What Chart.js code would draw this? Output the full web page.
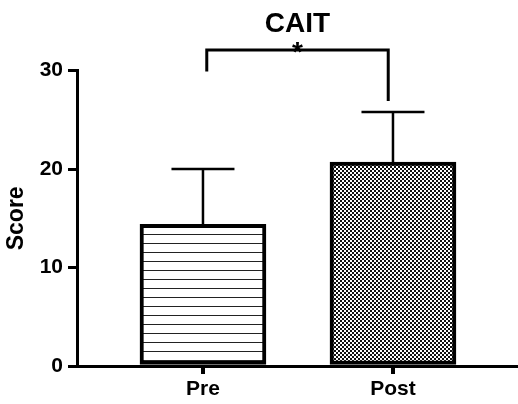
<!DOCTYPE html>
<html>
<head>
<meta charset="utf-8">
<script src="https://cdn.jsdelivr.net/npm/chart.js@4"></script>
<style>
  html, body { margin: 0; padding: 0; background: #fff; }
  #wrap { width: 518px; height: 404px; }
</style>
</head>
<body>
<div id="wrap"><canvas id="c" width="518" height="404"></canvas></div>
<script>
// ---- data ----
const categories = ['Pre', 'Post'];
const positions = [0, 1];
const means = [14.4, 20.7];
const sds = [5.6, 5.1];
const yTicks = [0, 10, 20, 30];
const chartTitle = 'CAIT';
const yTitle = 'Score';
const sigLabel = '*';
const bracketX = [0.02, 0.975];
const bracketY = [29.9, 32.1, 26.9]; // left leg bottom, top, right leg bottom

const FONT = '"Liberation Sans", Arial, Helvetica, sans-serif';

// ---- patterns ----
function linePattern() {
  const c = document.createElement('canvas');
  c.width = 9; c.height = 9;
  const x = c.getContext('2d');
  x.fillStyle = '#fff'; x.fillRect(0, 0, 9, 9);
  x.fillStyle = '#222'; x.fillRect(0, 0, 9, 1);
  return x.createPattern(c, 'repeat');
}
function checkPattern() {
  const c = document.createElement('canvas');
  c.width = 4; c.height = 4;
  const x = c.getContext('2d');
  x.fillStyle = '#fff'; x.fillRect(0, 0, 4, 4);
  x.fillStyle = '#111';
  x.fillRect(0, 0, 2, 2); x.fillRect(2, 2, 2, 2);
  return x.createPattern(c, 'repeat');
}

const errorBars = {
  id: 'errorBars',
  beforeDatasetsDraw(chart) {
    const ctx = chart.ctx, xs = chart.scales.x, ys = chart.scales.y;
    ctx.save();
    ctx.strokeStyle = '#000';
    ctx.lineWidth = 2.5;
    positions.forEach((p, i) => {
      const px = xs.getPixelForValue(p);
      const y0 = ys.getPixelForValue(means[i]);
      const y1 = ys.getPixelForValue(means[i] + sds[i]);
      ctx.beginPath();
      ctx.moveTo(px, y0); ctx.lineTo(px, y1);
      ctx.moveTo(px - 31.5, y1); ctx.lineTo(px + 31.5, y1);
      ctx.stroke();
    });
    ctx.restore();
  },
  afterDraw(chart) {
    const ctx = chart.ctx, xs = chart.scales.x, ys = chart.scales.y;
    const x1 = xs.getPixelForValue(bracketX[0]);
    const x2 = xs.getPixelForValue(bracketX[1]);
    const yl = ys.getPixelForValue(bracketY[0]);
    const yt = ys.getPixelForValue(bracketY[1]);
    const yr = ys.getPixelForValue(bracketY[2]);
    ctx.save();
    ctx.strokeStyle = '#000';
    ctx.lineWidth = 3;
    ctx.lineCap = 'butt';
    ctx.beginPath();
    ctx.moveTo(x1, yl); ctx.lineTo(x1, yt); ctx.lineTo(x2, yt); ctx.lineTo(x2, yr);
    ctx.stroke();
    // x-axis tick marks at category positions
    const yb = chart.chartArea.bottom;
    ctx.beginPath();
    positions.forEach(p => {
      const px = Math.round(xs.getPixelForValue(p)) + 0.5;
      ctx.moveTo(px, yb); ctx.lineTo(px, yb + 8);
    });
    ctx.stroke();
    ctx.fillStyle = '#000';
    ctx.font = 'bold 28px ' + FONT;
    ctx.textAlign = 'center';
    ctx.textBaseline = 'alphabetic';
    ctx.fillText(sigLabel, (x1 + x2) / 2, yt + 11);
    ctx.restore();
  }
};

new Chart(document.getElementById('c'), {
  type: 'bar',
  data: {
    datasets: [{
      data: positions.map((p, i) => ({ x: p, y: means[i] })),
      backgroundColor: [linePattern(), checkPattern()],
      borderColor: '#000',
      borderWidth: 4,
      borderSkipped: false,
      barThickness: 126
    }]
  },
  options: {
    responsive: false,
    animation: false,
    devicePixelRatio: 1,
    layout: { padding: { left: 0, right: 0, top: 0, bottom: 0 } },
    plugins: {
      legend: { display: false },
      tooltip: { enabled: false },
      title: {
        display: true,
        fullSize: false,
        text: chartTitle,
        color: '#000',
        font: { family: FONT, size: 28, weight: 'bold' },
        padding: { top: 7, bottom: 30 }
      }
    },
    scales: {
      x: {
        type: 'linear',
        min: -0.663,
        max: 1.658,
        offset: false,
        afterBuildTicks: s => { s.ticks = positions.map(v => ({ value: v })); },
        afterFit: s => { s.height = 38; },
        ticks: {
          autoSkip: false,
          maxRotation: 0,
          color: '#000',
          padding: 3,
          font: { family: FONT, size: 21, weight: 'bold' },
          callback: v => categories[positions.indexOf(v)] ?? ''
        },
        grid: { offset: false, drawOnChartArea: false, drawTicks: true, tickLength: 8, color: '#000', lineWidth: 3 },
        border: { display: true, color: '#000', width: 3 }
      },
      y: {
        min: 0,
        max: 30,
        afterBuildTicks: s => { s.ticks = yTicks.map(v => ({ value: v })); },
        afterFit: s => { s.width = 77; },
        ticks: {
          color: '#000',
          padding: 5,
          font: { family: FONT, size: 21, weight: 'bold' }
        },
        grid: { offset: false, drawOnChartArea: false, drawTicks: true, tickLength: 9, color: '#000', lineWidth: 3 },
        border: { display: true, color: '#000', width: 3 },
        title: {
          display: true,
          text: yTitle,
          color: '#000',
          font: { family: FONT, size: 23, weight: 'bold' },
          padding: { top: 3, bottom: 0 }
        }
      }
    }
  },
  plugins: [errorBars]
});
</script>
</body>
</html>
